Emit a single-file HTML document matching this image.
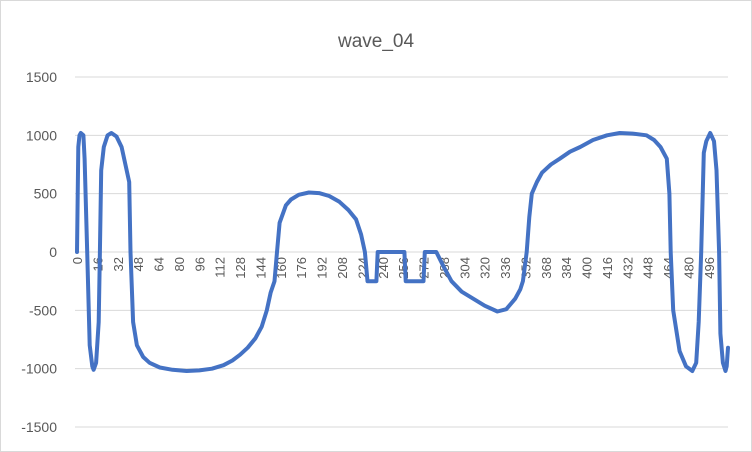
<!DOCTYPE html>
<html><head><meta charset="utf-8"><style>
body{margin:0;background:#fff;font-family:"Liberation Sans",sans-serif}
svg{display:block}
</style></head><body>
<svg width="752" height="452">
<rect x="0.5" y="0.5" width="751" height="451" fill="#fff" stroke="#d9d9d9"/>
<text x="376" y="47" text-anchor="middle" font-size="19" fill="#595959">wave_04</text>
<g id="grid"></g><g id="ylab"></g><g id="xlab"></g><g id="series"></g>
</svg>
<script>
const yTicks=[1500,1000,500,0,-500,-1000,-1500];
const xTickLabels=[0,16,32,48,64,80,96,112,128,144,160,176,192,208,224,240,256,272,288,304,320,336,352,368,384,400,416,432,448,464,480,496];
const idx=[0,1,2,3,5,6,8,10,12,13,15,17,18,19,21,24,27,31,35,38,41,42,44,47,52,57,65,75,86,96,106,115,122,128,134,140,145,149,152,155,157,159,164,168,174,182,190,198,206,213,219,223,226,228,235,236,257,258,272,273,282,288,294,302,311,320,330,337,344,348,350,353,355,357,361,365,372,379,387,395,405,416,426,436,447,453,458,463,465,466,468,473,478,483,486,488,490,492,494,497,500,502,504,505,507,509,510,511];
const vals=[0,900,1000,1020,1000,800,0,-800,-980,-1010,-950,-600,0,700,900,1000,1020,990,900,750,600,0,-600,-800,-900,-950,-990,-1010,-1020,-1015,-1000,-970,-930,-880,-820,-740,-640,-500,-350,-250,0,250,400,450,490,510,505,480,430,360,280,150,0,-250,-250,0,0,-250,-250,0,0,-130,-250,-340,-400,-460,-510,-490,-400,-320,-250,0,300,500,600,680,750,800,860,900,960,1000,1020,1015,1000,960,900,800,500,0,-500,-850,-980,-1020,-950,-600,0,850,950,1020,950,700,0,-700,-950,-1020,-980,-820];
const NS="http://www.w3.org/2000/svg";
const X0=77,X1=728,Y0=252,YS=175/1500;
const xs=i=>X0+i*(X1-X0)/511;
const ys=v=>Y0-v*YS;
const grid=document.getElementById('grid'),yl=document.getElementById('ylab'),xl=document.getElementById('xlab'),se=document.getElementById('series');
yTicks.forEach(t=>{
 const l=document.createElementNS(NS,'line');
 l.setAttribute('x1',X0-2);l.setAttribute('x2',X1);l.setAttribute('y1',ys(t));l.setAttribute('y2',ys(t));
 l.setAttribute('stroke','#d9d9d9');l.setAttribute('stroke-width','1');
 
 
 grid.appendChild(l);
 const tx=document.createElementNS(NS,'text');
 tx.setAttribute('x',57);tx.setAttribute('y',ys(t)+5);tx.setAttribute('text-anchor','end');
 tx.setAttribute('font-size','14');tx.setAttribute('fill','#595959');tx.textContent=t;
 
 
 yl.appendChild(tx);
});
xTickLabels.forEach(t=>{
 const tx=document.createElementNS(NS,'text');
 const x=xs(t)+5,y=257;
 tx.setAttribute('x',x);tx.setAttribute('y',y);tx.setAttribute('text-anchor','end');
 tx.setAttribute('transform','rotate(-90 '+x+' '+y+')');
 tx.setAttribute('font-size','13');tx.setAttribute('fill','#595959');tx.textContent=t;
 
 
 xl.appendChild(tx);
});
const p=document.createElementNS(NS,'polyline');
p.setAttribute('points',idx.map((i,k)=>xs(i).toFixed(1)+','+ys(vals[k]).toFixed(1)).join(' '));
p.setAttribute('fill','none');p.setAttribute('stroke','#4472C4');p.setAttribute('stroke-width','4');
p.setAttribute('stroke-linejoin','round');p.setAttribute('stroke-linecap','round');


se.appendChild(p);
</script>
</body></html>
